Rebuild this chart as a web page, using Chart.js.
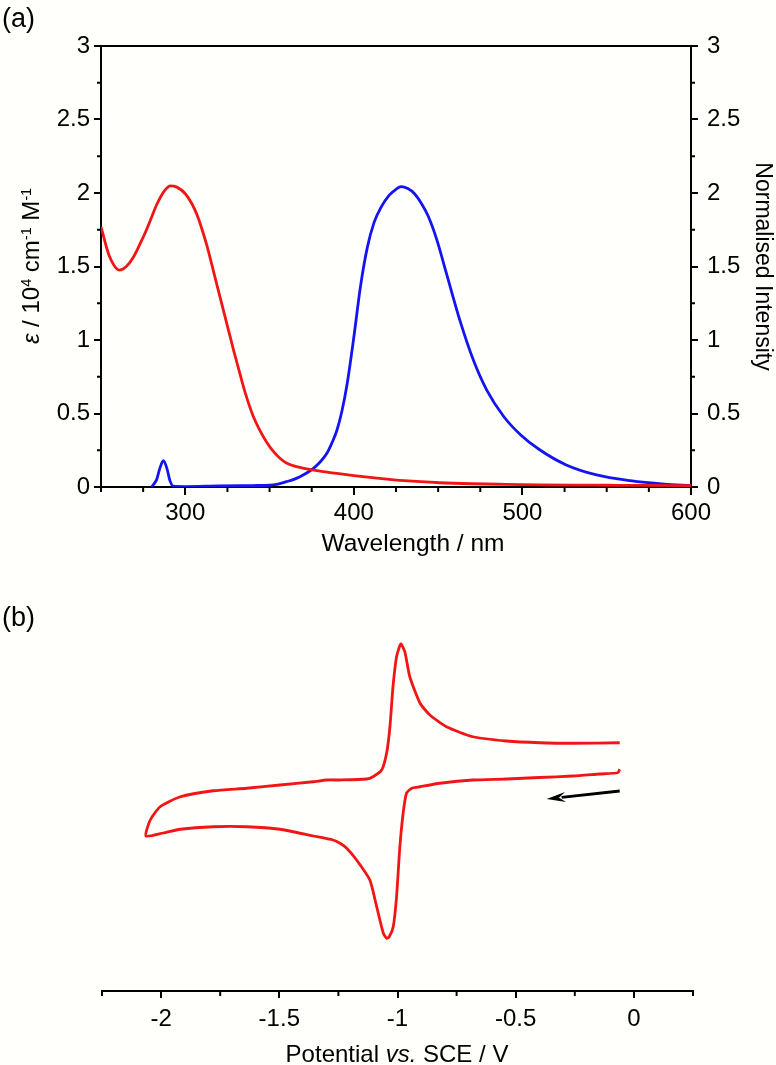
<!DOCTYPE html>
<html>
<head>
<meta charset="utf-8">
<script src="https://cdn.jsdelivr.net/npm/chart.js@4.4.1/dist/chart.umd.min.js"></script>
<style>
  html, body { margin: 0; padding: 0; background: #fffffc; }
  body { width: 776px; height: 1065px; position: relative; overflow: hidden;
         font-family: 'Liberation Sans', Arial, sans-serif; color: #000; }
  canvas { position: absolute; left: 0; }
  #specCanvas { top: 0; }
  #cvCanvas { top: 560px; }
  .lbl { position: absolute; white-space: nowrap; line-height: 1; }
  .panel { font-size: 27px; left: 2px; }
  .ytitle { font-size: 24px; left: 31px; top: 266px; transform: translate(-50%, -50%) rotate(-90deg); }
  .xtitle { font-size: 24px; line-height: 24px; transform: translateX(-50%); }
  sup { font-size: 0.6em; vertical-align: 0.55em; line-height: 0; }
</style>
</head>
<body>
<canvas id="specCanvas" width="776" height="560"></canvas>
<canvas id="cvCanvas" width="776" height="505"></canvas>
<div class="lbl panel" style="top:5px">(a)</div>
<div class="lbl panel" style="top:604px">(b)</div>
<div class="lbl ytitle"><i>ε</i> / 10<sup>4</sup> cm<sup>-1</sup> M<sup>-1</sup></div>
<div class="lbl xtitle" style="left:413px; top:531px; font-size:24.5px">Wavelength / nm</div>
<div class="lbl xtitle" style="left:397px; top:1042px">Potential <i>vs.</i> SCE / V</div>
<script>
// (a) absorption, epsilon / 10^4 M^-1 cm^-1
const absWavelength = [250, 255, 261, 265, 269, 273, 277, 280, 283, 287, 289, 291, 295, 300, 304, 307, 310,
  313, 317, 321, 325, 329, 333, 336, 340, 344, 348, 352, 356, 360, 366, 372, 380, 390, 400, 415, 430,
  451, 470, 490, 510, 530, 550, 570, 600];
const absEpsilon = [1.77, 1.57, 1.476, 1.50, 1.56, 1.65, 1.75, 1.835, 1.92, 2.005, 2.032, 2.048, 2.04, 1.995,
  1.925, 1.85, 1.75, 1.635, 1.455, 1.275, 1.095, 0.915, 0.745, 0.625, 0.49, 0.39, 0.31, 0.245, 0.197, 0.163,
  0.138, 0.124, 0.108, 0.092, 0.078, 0.059, 0.043, 0.029, 0.022, 0.018, 0.015, 0.013, 0.012, 0.011, 0.01];

// (a) emission, normalised intensity
const emWavelength = [280, 283, 285, 287, 289, 291, 293, 300, 320, 340, 350, 355, 360, 364, 368, 372, 376,
  380, 384, 387, 390, 393, 396, 400, 404, 408, 412, 416, 421, 425, 428, 432, 436, 440, 444, 449, 455, 463,
  471, 479, 489, 499, 510, 526, 544, 564, 584, 600];
const emIntensity = [0, 0.05, 0.13, 0.179, 0.13, 0.04, 0.005, 0.003, 0.008, 0.01, 0.012, 0.02, 0.036, 0.05,
  0.07, 0.095, 0.127, 0.17, 0.229, 0.3, 0.388, 0.52, 0.7, 1.02, 1.37, 1.63, 1.80, 1.90, 1.985, 2.025, 2.043,
  2.03, 1.995, 1.93, 1.845, 1.69, 1.45, 1.13, 0.86, 0.655, 0.478, 0.354, 0.255, 0.15, 0.082, 0.043, 0.02, 0.01];

// (b) cyclic voltammogram, scan starts at -0.06 V going negative
const cvPotential = [-0.060, -0.068, -0.145, -0.259, -0.400, -0.539, -0.681, -0.821, -0.905, -0.940, -0.962,
  -0.976, -0.990, -1.004, -1.018, -1.035, -1.046, -1.060, -1.088, -1.117, -1.173, -1.215, -1.243, -1.273,
  -1.357, -1.497, -1.638, -1.780, -1.919, -1.991, -2.064,
  -2.046, -2.004, -1.919, -1.780, -1.638, -1.497, -1.357, -1.300, -1.243, -1.131, -1.104, -1.067, -1.046,
  -1.032, -1.019, -1.004, -0.986, -0.969, -0.948, -0.905, -0.863, -0.793, -0.681, -0.539, -0.398, -0.259, -0.060];
const cvCurrent = [0.83, 0.69, 0.64, 0.56, 0.50, 0.44, 0.40, 0.27, 0.13, 0.07, -0.13,
  -0.92, -2.27, -4.27, -5.47, -5.87, -5.93, -5.73, -4.67, -3.60, -2.80, -2.33, -2.13, -2.00,
  -1.84, -1.57, -1.47, -1.47, -1.57, -1.72, -1.84,
  -1.20, -0.67, -0.27, -0.03, 0.07, 0.20, 0.33, 0.40, 0.40, 0.44, 0.53, 0.80, 1.48,
  2.53, 4.14, 5.33, 5.84, 5.53, 4.53, 3.48, 3.00, 2.53, 2.13, 1.96, 1.89, 1.87, 1.89];
const scanArrowFrom = [-0.060, -0.04];
const scanArrowTo = [-0.369, -0.36];

// tick labels
const waveTicks = [300, 400, 500, 600];
const intensityTicks = [0, 0.5, 1, 1.5, 2, 2.5, 3];
const potentialTicks = [-2, -1.5, -1, -0.5, 0];
const waveMinor = [250, 275, 325, 350, 375, 425, 450, 475, 525, 550, 575];
const intensityMinor = [0.25, 0.75, 1.25, 1.75, 2.25, 2.75];
const potentialMinor = [-2.25, -1.75, -1.25, -0.75, -0.25, 0.25];

const RED = '#f21515';
const BLUE = '#1414f2';

Chart.defaults.font.family = "'Liberation Sans', Arial, sans-serif";
Chart.defaults.font.size = 24;
Chart.defaults.color = '#000';

const toPoints = (xs, ys) => xs.map((x, i) => ({ x, y: ys[i] }));
const fixTicks = arr => scale => { scale.ticks = arr.map(v => ({ value: v })); };
const plainLabel = v => String(v);

// short ticks between the labelled ones
const minorTicks = {
  id: 'minorTicks',
  afterDraw(chart, args, opts) {
    const ctx = chart.ctx;
    ctx.save();
    ctx.strokeStyle = '#000';
    ctx.lineWidth = 2;
    (opts.axes || []).forEach(a => {
      const s = chart.scales[a.id];
      a.values.forEach(v => {
        const p = s.getPixelForValue(v);
        ctx.beginPath();
        if (s.isHorizontal()) { ctx.moveTo(p, s.top); ctx.lineTo(p, s.top + a.len); }
        else if (s.position === 'left') { ctx.moveTo(s.right, p); ctx.lineTo(s.right - a.len, p); }
        else { ctx.moveTo(s.left, p); ctx.lineTo(s.left + a.len, p); }
        ctx.stroke();
      });
    });
    ctx.restore();
  }
};

const frameTop = {
  id: 'frameTop',
  afterDraw(chart, args, opts) {
    if (!opts.show) return;
    const { ctx, chartArea } = chart;
    ctx.save();
    ctx.strokeStyle = '#000';
    ctx.lineWidth = 2;
    ctx.beginPath();
    ctx.moveTo(chartArea.left, chartArea.top);
    ctx.lineTo(chartArea.right, chartArea.top);
    ctx.stroke();
    ctx.restore();
  }
};

const scanArrow = {
  id: 'scanArrow',
  afterDatasetsDraw(chart, args, opts) {
    if (!opts.from) return;
    const { ctx, scales: { x, y } } = chart;
    const x1 = x.getPixelForValue(opts.from[0]), y1 = y.getPixelForValue(opts.from[1]);
    const x2 = x.getPixelForValue(opts.to[0]), y2 = y.getPixelForValue(opts.to[1]);
    const ang = Math.atan2(y2 - y1, x2 - x1);
    const headLen = 19, headHalf = 5;
    const bx = x2 - headLen * Math.cos(ang), by = y2 - headLen * Math.sin(ang);
    ctx.save();
    ctx.strokeStyle = '#000';
    ctx.fillStyle = '#000';
    ctx.lineWidth = 3;
    ctx.beginPath();
    ctx.moveTo(x1, y1);
    ctx.lineTo(bx + 4 * Math.cos(ang), by + 4 * Math.sin(ang));
    ctx.stroke();
    ctx.beginPath();
    ctx.moveTo(x2, y2);
    ctx.lineTo(bx + headHalf * Math.sin(ang), by - headHalf * Math.cos(ang));
    ctx.lineTo(bx + 0.35 * headLen * Math.cos(ang), by + 0.35 * headLen * Math.sin(ang));
    ctx.lineTo(bx - headHalf * Math.sin(ang), by + headHalf * Math.cos(ang));
    ctx.closePath();
    ctx.fill();
    ctx.restore();
  }
};

const axisBorder = { display: true, color: '#000', width: 2 };
const tickGrid = len => ({ display: true, drawOnChartArea: false, drawTicks: true, tickLength: len, color: '#000', lineWidth: 2 });

// (a) spectra
new Chart(document.getElementById('specCanvas'), {
  type: 'scatter',
  data: {
    datasets: [
      { label: 'Absorption', data: toPoints(absWavelength, absEpsilon), yAxisID: 'y', showLine: true,
        borderColor: RED, borderWidth: 2.8, pointRadius: 0, cubicInterpolationMode: 'monotone' },
      { label: 'Emission', data: toPoints(emWavelength, emIntensity), yAxisID: 'y2', showLine: true,
        borderColor: BLUE, borderWidth: 2.8, pointRadius: 0, cubicInterpolationMode: 'monotone' }
    ]
  },
  options: {
    responsive: false,
    animation: false,
    layout: { padding: { top: 46, left: 0, right: 0, bottom: 0 } },
    plugins: {
      legend: { display: false },
      tooltip: { enabled: false },
      frameTop: { show: true },
      minorTicks: { axes: [
        { id: 'x', values: waveMinor, len: 5 },
        { id: 'y', values: intensityMinor, len: 4 },
        { id: 'y2', values: intensityMinor, len: 4 }
      ] }
    },
    scales: {
      x: {
        type: 'linear', min: 250, max: 600,
        afterBuildTicks: fixTicks(waveTicks),
        afterFit: s => { s.height = 73; },
        grid: tickGrid(8), border: axisBorder,
        ticks: { padding: 4, maxRotation: 0, callback: plainLabel }
      },
      y: {
        position: 'left', min: 0, max: 3,
        afterBuildTicks: fixTicks(intensityTicks),
        afterFit: s => { s.width = 101; },
        grid: tickGrid(7), border: axisBorder,
        ticks: { padding: 4, callback: plainLabel }
      },
      y2: {
        position: 'right', min: 0, max: 3,
        afterBuildTicks: fixTicks(intensityTicks),
        afterFit: s => { s.width = 85; },
        grid: tickGrid(7), border: axisBorder,
        ticks: { padding: 9, callback: plainLabel },
        title: { display: true, text: 'Normalised Intensity', font: { size: 23 }, padding: { top: 0, bottom: 0 } }
      }
    }
  },
  plugins: [minorTicks, frameTop]
});

// (b) cyclic voltammogram
new Chart(document.getElementById('cvCanvas'), {
  type: 'scatter',
  data: {
    datasets: [
      { label: 'CV', data: toPoints(cvPotential, cvCurrent), showLine: true,
        borderColor: RED, borderWidth: 2.8, pointRadius: 0, tension: 0.2 }
    ]
  },
  options: {
    responsive: false,
    animation: false,
    layout: { padding: { top: 30, left: 102, right: 83, bottom: 0 } },
    plugins: {
      legend: { display: false },
      tooltip: { enabled: false },
      scanArrow: { from: scanArrowFrom, to: scanArrowTo },
      minorTicks: { axes: [{ id: 'x', values: potentialMinor, len: 5 }] }
    },
    scales: {
      x: {
        type: 'linear', min: -2.25, max: 0.25,
        afterBuildTicks: fixTicks(potentialTicks),
        afterFit: s => { s.height = 74; },
        grid: tickGrid(7), border: axisBorder,
        ticks: { padding: 7, maxRotation: 0, callback: plainLabel }
      },
      y: { display: false, min: -8.04, max: 8.0 }
    }
  },
  plugins: [minorTicks, scanArrow]
});
</script>
</body>
</html>
